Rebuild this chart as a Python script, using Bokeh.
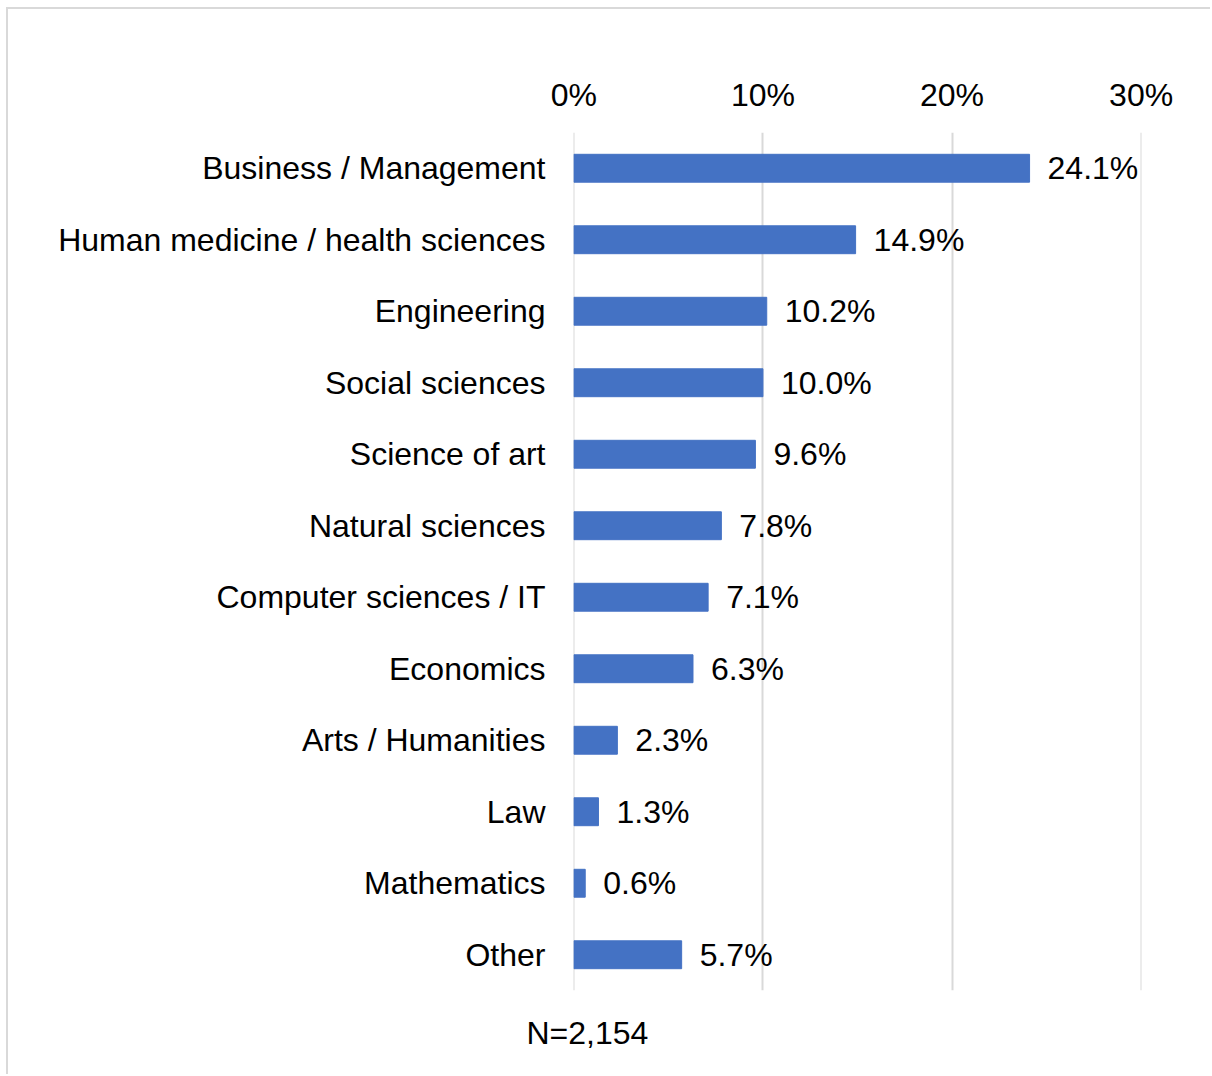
from bokeh.plotting import figure
from bokeh.models import FactorRange, Range1d, FixedTicker, PrintfTickFormatter, ColumnDataSource, Title
from bokeh.core.properties import value
from bokeh.embed import file_html
from bokeh.resources import INLINE

categories = ["Business / Management", "Human medicine / health sciences", "Engineering",
              "Social sciences", "Science of art", "Natural sciences", "Computer sciences / IT",
              "Economics", "Arts / Humanities", "Law", "Mathematics", "Other"]
shares = [24.1, 14.9, 10.2, 10.0, 9.6, 7.8, 7.1, 6.3, 2.3, 1.3, 0.6, 5.7]
x_ticks = [0, 10, 20, 30]
note = "N=2,154"

FONT = "Liberation Sans"
FS = "32px"

src = ColumnDataSource(dict(cat=categories, val=shares, lab=[f"{v:.1f}%" for v in shares]))

p = figure(width=1204, height=1067, output_backend="svg", toolbar_location=None,
           y_range=FactorRange(factors=list(reversed(categories)), range_padding=0),
           x_range=Range1d(-0.02, 30.02), x_axis_location="above",
           min_border_left=565, min_border_right=71, min_border_top=123, min_border_bottom=86)
p.styles = {"border-left": "2px solid #d9d9d9", "border-top": "2px solid #d9d9d9",
            "margin-left": "6px", "margin-top": "7px"}
p.outline_line_color = None
p.hbar(y="cat", right="val", left=0, height=0.39, source=src, color="#4472C4")
p.text(x="val", y="cat", text="lab", source=src, x_offset=18, text_baseline="middle",
       text_font=value(FONT), text_font_size=FS, text_color="black")

xa = p.xaxis[0]
xa.ticker = FixedTicker(ticks=x_ticks)
xa.formatter = PrintfTickFormatter(format="%d%%")
xa.axis_line_color = None
xa.major_tick_line_color = None
xa.minor_tick_line_color = None
xa.major_label_text_font = FONT
xa.major_label_text_font_size = FS
xa.major_label_text_color = "black"
xa.major_label_standoff = 14

ya = p.yaxis[0]
ya.axis_line_color = None
ya.major_tick_line_color = None
ya.minor_tick_line_color = None
ya.major_label_text_font = FONT
ya.major_label_text_font_size = FS
ya.major_label_text_color = "black"
ya.major_label_standoff = 22

p.xgrid.ticker = FixedTicker(ticks=x_ticks)
p.xgrid.grid_line_color = "#d9d9d9"
p.xgrid.grid_line_width = 2
p.ygrid.grid_line_color = None

p.add_layout(Title(text=note, align="left", offset=-47, standoff=45, text_font=FONT,
                   text_font_size=FS, text_font_style="normal", text_color="black"), "below")

open("out.html", "w").write(file_html(p, INLINE))
